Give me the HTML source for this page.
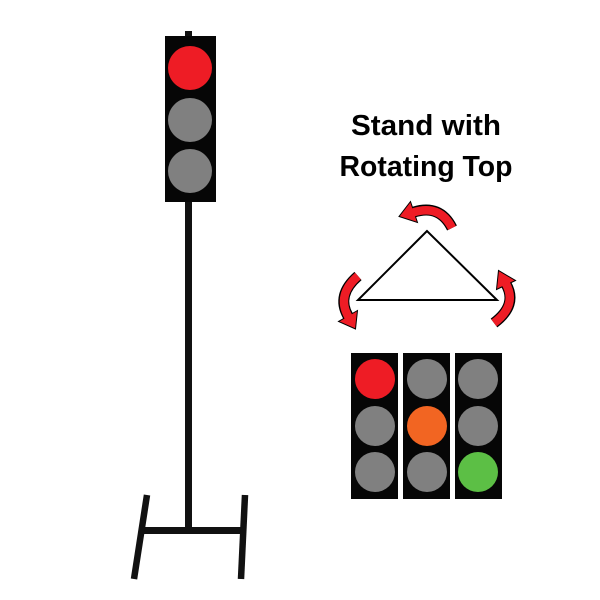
<!DOCTYPE html>
<html><head><style>body{margin:0;background:#fff}svg{display:block}</style></head><body>
<svg width="600" height="600" viewBox="0 0 600 600" xmlns="http://www.w3.org/2000/svg">
<rect width="600" height="600" fill="#fff"/>
<!-- tall stand -->
<rect x="185" y="31" width="7" height="6" fill="#111"/>
<rect x="185" y="200" width="7" height="332" fill="#111"/>
<rect x="165" y="36" width="51" height="166" fill="#060606"/>
<circle cx="190" cy="68" r="22" fill="#ee1c25"/>
<circle cx="190" cy="120" r="22" fill="#808080"/>
<circle cx="190" cy="171" r="22" fill="#808080"/>
<rect x="140" y="527" width="104" height="7" fill="#111"/>
<line x1="147" y1="495" x2="134" y2="579" stroke="#111" stroke-width="6.5"/>
<line x1="245" y1="495" x2="241" y2="579" stroke="#111" stroke-width="6.5"/>
<!-- text -->
<g font-family="Liberation Sans, sans-serif" font-weight="bold" font-size="29" fill="#000" text-anchor="middle">
<text x="426" y="135" textLength="150" lengthAdjust="spacingAndGlyphs">Stand with</text>
<text x="426" y="176" textLength="173" lengthAdjust="spacingAndGlyphs">Rotating Top</text>
</g>
<!-- triangle -->
<polygon points="427,231 358,300 497,300" fill="none" stroke="#000" stroke-width="2"/>
<!-- arrows -->
<g fill="none" stroke-linecap="butt">
<path d="M452,228 Q440,204 414,212" stroke="#000" stroke-width="11"/>
<path d="M358,276 Q336,295 348,316" stroke="#000" stroke-width="11"/>
<path d="M494,323 Q518,305 506,284" stroke="#000" stroke-width="11"/>
</g>
<g fill="#ee1c25" stroke="#000" stroke-width="1">
<polygon points="417.5,222.5 410.5,201.5 399,216.5"/>
<polygon points="357.5,310.5 338.5,321.5 355.5,329"/>
<polygon points="515.5,280.5 496.5,289.5 498.5,270.5"/>
</g>
<g fill="none" stroke="#ee1c25" stroke-width="8.5">
<path d="M452,228 Q440,204 413,212.5"/>
<path d="M358,276 Q336,295 348.5,317"/>
<path d="M494,323 Q518,305 505.5,283"/>
</g>
<!-- three small lights -->
<g>
<rect x="351" y="353" width="47" height="146" fill="#060606"/>
<rect x="403" y="353" width="47" height="146" fill="#060606"/>
<rect x="455" y="353" width="47" height="146" fill="#060606"/>
<circle cx="375" cy="379" r="20" fill="#ee1c25"/>
<circle cx="375" cy="426" r="20" fill="#808080"/>
<circle cx="375" cy="472" r="20" fill="#808080"/>
<circle cx="427" cy="379" r="20" fill="#808080"/>
<circle cx="427" cy="426" r="20" fill="#f26522"/>
<circle cx="427" cy="472" r="20" fill="#808080"/>
<circle cx="478" cy="379" r="20" fill="#808080"/>
<circle cx="478" cy="426" r="20" fill="#808080"/>
<circle cx="478" cy="472" r="20" fill="#5cbf45"/>
</g>
</svg>
</body></html>
